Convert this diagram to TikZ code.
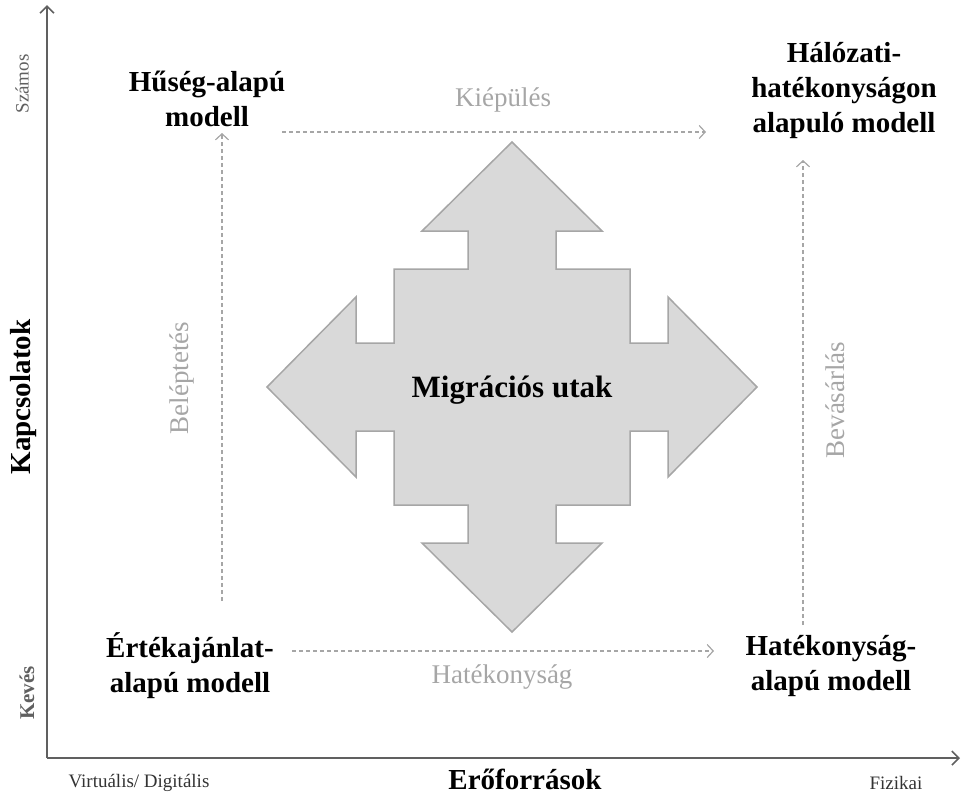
\documentclass[tikz,border=0pt]{standalone}
\usepackage{fontspec}
\setmainfont{Liberation Serif}
\usetikzlibrary{arrows.meta}
\definecolor{axisgray}{HTML}{606060}
\definecolor{pathgray}{HTML}{A6A6A6}
\definecolor{crossfill}{HTML}{D9D9D9}
\definecolor{crossline}{HTML}{A6A6A6}

\begin{document}
\begin{tikzpicture}[x=1pt, y=-1pt,
    model/.style={align=center, inner sep=0pt, font=\fontsize{29}{35}\selectfont\bfseries},
    pathlabel/.style={inner sep=0pt, text=pathgray, font=\fontsize{27}{30}\selectfont},
    endlabel/.style={inner sep=0pt, text=axisgray, font=\fontsize{19}{22}\selectfont},
    axistitle/.style={inner sep=0pt, font=\fontsize{29}{34}\selectfont\bfseries},
    pathline/.style={pathgray, line width=1.4pt, dash pattern=on 4pt off 3pt,
        -{Straight Barb[length=6pt, width=13pt, line width=1.2pt]}}]
    \useasboundingbox (0,0) rectangle (963,796);

    % Draw axes
    \coordinate (origin) at (47,758);
    \coordinate (ytop) at (47,5);
    \coordinate (xend) at (960,758);
    \draw[axisgray, line width=1.6pt, -{Straight Barb[length=7pt, width=14pt]}] (origin) -- (ytop);
    \draw[axisgray, line width=1.6pt, -{Straight Barb[length=7pt, width=14pt]}] (origin) -- (xend);
    \node[axistitle, rotate=90] (kapcs) at (24,397) {Kapcsolatok};
    \node[axistitle] (erof) at (525,779) {Erőforrások};
    \node[endlabel, rotate=90] (szamos) at (22,84) {Számos};
    \node[endlabel, rotate=90, font=\fontsize{21}{24}\selectfont\bfseries] (keves) at (27,693) {Kevés};
    \node[endlabel, text=black!80] (virt) at (139,783) {Virtuális/ Digitális};
    \node[endlabel, text=black!80] (fiz) at (896,783) {Fizikai};

    % Migration cross in the middle
    \draw[crossline, fill=crossfill, line width=1.5pt]
        (512,142) -- (602,231) -- (556,231) -- (556,269) -- (630,269) -- (630,343)
        -- (668,343) -- (668,297) -- (757,387) -- (668,477) -- (668,431) -- (630,431)
        -- (630,505) -- (556,505) -- (556,543) -- (602,543) -- (512,632) -- (422,543)
        -- (468,543) -- (468,505) -- (394,505) -- (394,431) -- (356,431) -- (356,477)
        -- (267,387) -- (356,297) -- (356,343) -- (394,343) -- (394,269) -- (468,269)
        -- (468,231) -- (422,231) -- cycle;
    \node[model, font=\fontsize{31}{35}\selectfont\bfseries] (migr) at (512,390) {Migrációs utak};

    % The four models
    \node[model] (huseg) at (207,99) {Hűség-alapú\\modell};
    \node[model] (halo) at (844,91) {Hálózati-\\hatékonyságon\\alapuló modell};
    \node[model] (ertek) at (190,666) {Értékajánlat-\\alapú modell};
    \node[model] (hatek) at (831,666) {Hatékonyság-\\alapú modell};

    % Dashed paths between the models
    \coordinate (kiep-a) at (282,132);
    \coordinate (kiep-b) at (706,132);
    \coordinate (hat-a) at (292,651);
    \coordinate (hat-b) at (714,651);
    \coordinate (bel-a) at (222,601);
    \coordinate (bel-b) at (222,133);
    \coordinate (bev-a) at (803,625);
    \coordinate (bev-b) at (803,160);
    \draw[pathline] (kiep-a) -- (kiep-b);
    \draw[pathline] (hat-a) -- (hat-b);
    \draw[pathline] (bel-a) -- (bel-b);
    \draw[pathline] (bev-a) -- (bev-b);
    \node[pathlabel] (kiepules) at (503,100) {Kiépülés};
    \node[pathlabel] (hatekonysag) at (502,677) {Hatékonyság};
    \node[pathlabel, rotate=90] (beleptetes) at (182,378) {Beléptetés};
    \node[pathlabel, rotate=90] (bevasarlas) at (835,400) {Bevásárlás};
\end{tikzpicture}
\end{document}
